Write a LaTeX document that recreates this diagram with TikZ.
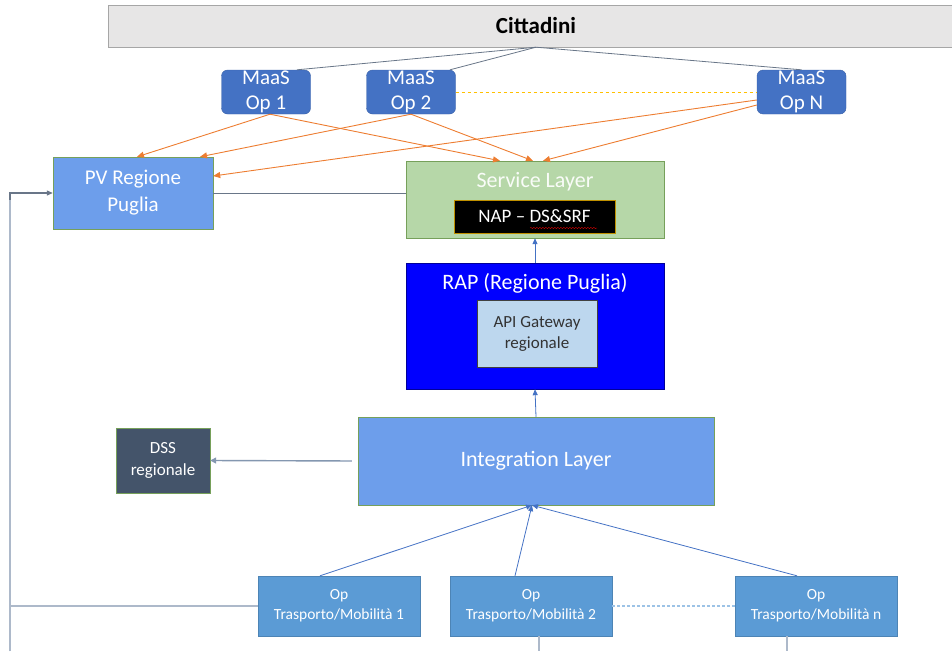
\documentclass[tikz,border=0pt]{standalone}
\usepackage{fontspec}
\setmainfont{Carlito}
\usepackage{tikz}
\usetikzlibrary{calc,arrows.meta,decorations.pathmorphing}

\definecolor{citgray}{RGB}{231,230,230}
\definecolor{maasblue}{RGB}{68,114,196}
\definecolor{pvblue}{RGB}{109,158,235}
\definecolor{opblue}{RGB}{91,155,213}
\definecolor{servgreen}{RGB}{182,215,168}
\definecolor{edgegreen}{RGB}{118,160,90}
\definecolor{apiblue}{RGB}{189,215,238}
\definecolor{dssslate}{RGB}{68,84,106}
\definecolor{arrorange}{RGB}{237,125,49}
\definecolor{linegray}{RGB}{132,151,176}
\definecolor{busgray}{RGB}{173,185,202}
\definecolor{dashyellow}{RGB}{255,192,0}
\definecolor{napgold}{RGB}{191,144,0}
\definecolor{dotblue}{RGB}{157,195,230}

\begin{document}
\begin{tikzpicture}[x=1pt,y=-1pt,
 box/.style={draw, align=center, inner sep=0pt, text=white},
 maas/.style={box, fill=maasblue, draw=maasblue!85!black, rounded corners=6pt,
  minimum width=89, minimum height=44, font=\fontsize{21}{25}\selectfont},
 opbox/.style={box, fill=opblue, draw=opblue!85!black, minimum width=162,
  minimum height=60, font=\fontsize{15.5}{20}\selectfont},
 citline/.style={draw=dssslate!80, line width=0.8pt},
 orarrow/.style={draw=arrorange, line width=0.9pt, -{Triangle[length=7pt,width=6pt]}},
 bluearrow/.style={draw=maasblue, line width=0.8pt, -{Triangle[length=6pt,width=5pt]}},
 grayarrow/.style={draw=linegray, line width=1.4pt, -{Triangle[length=6pt,width=6pt]}},
 busline/.style={draw=busgray, line width=1.2pt}]

 \useasboundingbox (0,0) rectangle (952,651);

 \node[box, fill=citgray, draw=gray!70, minimum width=856, minimum height=42,
  text=black, font=\fontsize{23}{27}\selectfont\bfseries] (citt) at (536,26) {Cittadini};

 \node[maas] (maas1) at (266,92) {MaaS\\Op 1};
 \node[maas] (maas2) at (411,92) {MaaS\\Op 2};
 \node[maas] (maasN) at (801.5,92) {MaaS\\Op N};

 \node[box, fill=pvblue, draw=edgegreen, minimum width=160, minimum height=72,
  font=\fontsize{21}{27}\selectfont] (pv) at (133,193) {PV Regione\\Puglia};

 \node[box, fill=servgreen, draw=edgegreen, minimum width=258, minimum height=77] (serv) at (535,199.5) {};
 \node[text=white!92!servgreen, font=\fontsize{22}{26}\selectfont] (servtitle) at (535,182) {Service Layer};
 \node[box, fill=black, draw=napgold, line width=1pt, minimum width=161, minimum height=33,
  font=\fontsize{19}{23}\selectfont] (nap) at (534.5,216.5) {NAP -- DS\&SRF};
 \draw[red!80!black, decorate, decoration={snake, amplitude=0.7pt, segment length=3pt}]
  ($(nap.center)+(-4.5,11.5)$) -- ($(nap.center)+(62.5,11.5)$);

 \node[box, fill=blue, draw=blue!60!black, minimum width=258, minimum height=126] (rap) at (535,326) {};
 \node[text=white, font=\fontsize{22}{26}\selectfont] (raptitle) at (535,283) {RAP (Regione Puglia)};
 \node[box, fill=apiblue, draw=black!75, text=black!80, minimum width=120, minimum height=67,
  font=\fontsize{17}{21}\selectfont] (api) at (537,333.5) {API Gateway\\regionale};

 \node[box, fill=pvblue, draw=edgegreen, minimum width=356, minimum height=88,
  font=\fontsize{22}{26}\selectfont] (integ) at (536,461) {Integration Layer};
 \node[box, fill=dssslate, draw=edgegreen, minimum width=94, minimum height=65,
  font=\fontsize{17}{22}\selectfont] (dss) at (163,460.5) {DSS\\regionale};

 \node[opbox] (op1) at (339,606) {Op\\Trasporto/Mobilità 1};
 \node[opbox] (op2) at (531,606) {Op\\Trasporto/Mobilità 2};
 \node[opbox] (op3) at (816,606) {Op\\Trasporto/Mobilità n};


 \draw[citline] (citt.south) -- ($(maas1.north)+(31,0)$);
 \draw[citline] (citt.south) -- ($(maas2.north)+(39,0)$);
 \draw[citline] (citt.south) -- (maasN.north);

 \draw[dashyellow, dashed, line width=0.8pt] (maas2.east) -- (maasN.west);

 \draw[orarrow] ($(maas1.south)+(4,0)$) -- ($(pv.north)+(4,0)$);
 \draw[orarrow] ($(maas1.south)+(4,0)$) -- ($(serv.north)+(-35,0)$);
 \draw[orarrow] (maas2.south) -- ($(pv.north)+(67,0)$);
 \draw[orarrow] (maas2.south) -- ($(serv.north)+(-2,0)$);
 \draw[orarrow] ($(maasN.west)+(0,8)$) -- ($(pv.east)+(0,-17)$);
 \draw[orarrow] ($(maasN.west)+(0,13)$) -- ($(serv.north)+(8,0)$);

 \draw[citline] (pv.east) -- (pv.east -| serv.west);
 \draw[bluearrow] (rap.north) -- (serv.south);
 \draw[bluearrow] (integ.north) -- (rap.south);
 \draw[grayarrow, shorten <=6pt] (integ.west) -- (dss.east);

 \draw[bluearrow] ($(op1.north)+(-19,0)$) -- ($(integ.south)+(-4,0)$);
 \draw[bluearrow] ($(op2.north)+(-16,0)$) -- ($(integ.south)+(-4,0)$);
 \draw[bluearrow] ($(op3.north)+(-19,0)$) -- ($(integ.south)+(-4,0)$);
 \draw[dotblue, line width=1.4pt, dash pattern=on 3pt off 2pt] (op2.east) -- (op3.west);

 \coordinate (busbot) at (10,651);
 \coordinate (op2out) at (539,651);
 \coordinate (op3out) at (787,651);
 \draw[busline, -{Triangle[length=6pt,width=5pt]}, dssslate!80] (busbot) |- (pv.west);
 \draw[busline] (busbot) -- (10,200);
 \draw[busline] (op1.west) -- (op1.west -| busbot);
 \draw[busline] ($(op2.south)+(8,0)$) -- (op2out);
 \draw[busline] ($(op3.south)+(-29,0)$) -- (op3out);

\end{tikzpicture}
\end{document}
